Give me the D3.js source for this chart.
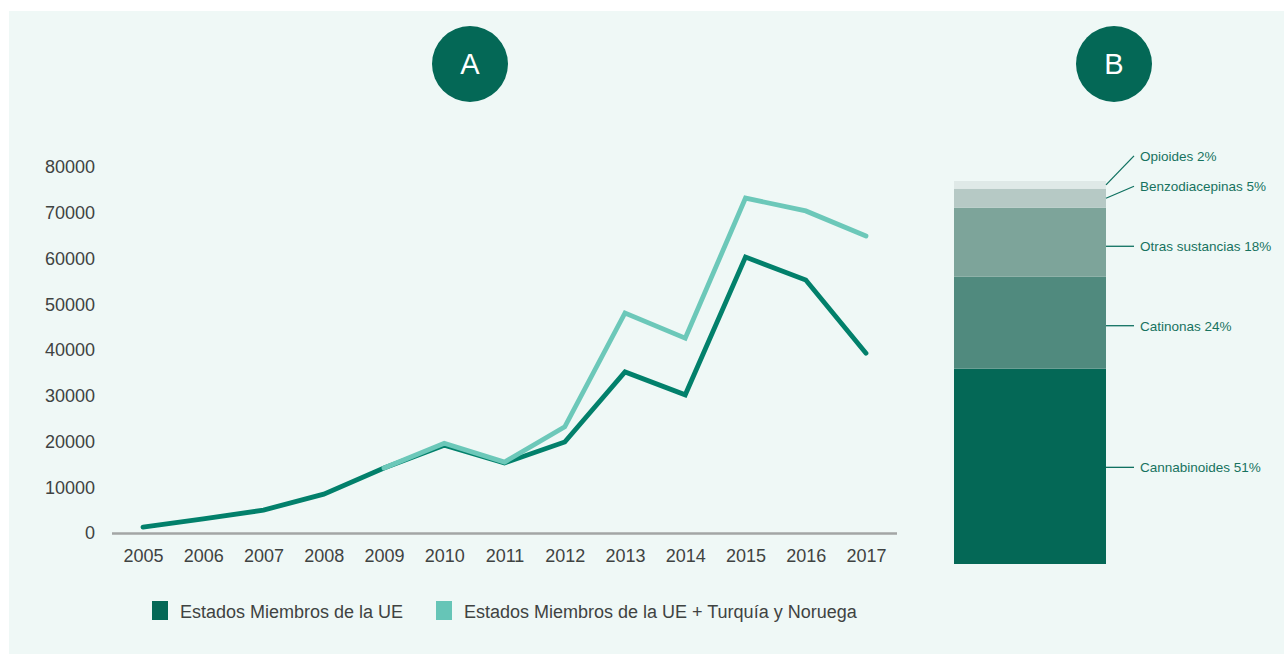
<!DOCTYPE html>
<html>
<head>
<meta charset="utf-8">
<script src="https://cdn.jsdelivr.net/npm/d3@7"></script>
<style>
  body { margin: 0; background: #fff; }
  svg { display: block; font-family: "Liberation Sans", Arial, sans-serif; }
</style>
</head>
<body>
<svg width="1284" height="654"></svg>
<script>
// data
var years = [2005, 2006, 2007, 2008, 2009, 2010, 2011, 2012, 2013, 2014, 2015, 2016, 2017];
var euValues = [1300, 3100, 5000, 8500, 14200, 19200, 15300, 19900, 35200, 30200, 60300, 55300, 39300];
// Turquía y Noruega only from 2009
var euPlusValues = [null, null, null, null, 14200, 19600, 15500, 23200, 48100, 42600, 73200, 70400, 64900];
var yTicks = [0, 10000, 20000, 30000, 40000, 50000, 60000, 70000, 80000];
var legendLabels = ["Estados Miembros de la UE", "Estados Miembros de la UE + Turquía y Noruega"];

var substances = ["Cannabinoides", "Catinonas", "Otras sustancias", "Benzodiacepinas", "Opioides"];
var shares = [51, 24, 18, 5, 2];

var darkLine = "#02806b", lightLine = "#6cc8b9", badge = "#046856";
var barColors = ["#046856", "#508a7e", "#7da49a", "#b6c9c5", "#dfe9e7"];

var svg = d3.select("svg");

svg.append("rect")
  .attr("x", 9).attr("y", 11)
  .attr("width", 1275).attr("height", 643)
  .attr("fill", "#eff8f6");

// ---- Panel A ----
var x = d3.scaleLinear().domain([2005, 2017]).range([143, 866]);
var y = d3.scaleLinear().domain([0, 80000]).range([533, 167]);

svg.append("line")
  .attr("x1", x(2005) - 31).attr("x2", x(2017) + 31)
  .attr("y1", y(0) + 0.5).attr("y2", y(0) + 0.5)
  .attr("stroke", "#a3a6a5").attr("stroke-width", 2.5);

var xAxis = svg.append("g")
  .attr("transform", `translate(0,${y(0)})`)
  .call(d3.axisBottom(x).tickValues(years).tickFormat(d3.format("d")).tickSize(0).tickPadding(16));
xAxis.select(".domain").remove();

var yAxis = svg.append("g")
  .attr("transform", "translate(95,0)")
  .call(d3.axisLeft(y).tickValues(yTicks).tickFormat(d3.format("d")).tickSize(0).tickPadding(0));
yAxis.select(".domain").remove();

svg.selectAll(".tick text")
  .attr("fill", "#3f4342")
  .style("font-size", "18px");

var line = d3.line()
  .defined(d => d[1] != null)
  .x(d => x(d[0]))
  .y(d => y(d[1]));

svg.append("path")
  .datum(years.map((yr, i) => [yr, euValues[i]]))
  .attr("fill", "none")
  .attr("stroke", darkLine)
  .attr("stroke-width", 4.8)
  .attr("stroke-linecap", "round")
  .attr("d", line);

svg.append("path")
  .datum(years.map((yr, i) => [yr, euPlusValues[i]]))
  .attr("fill", "none")
  .attr("stroke", lightLine)
  .attr("stroke-width", 4.8)
  .attr("stroke-linecap", "round")
  .attr("d", line);

// legend
var legend = svg.append("g");
var legX = [152, 436];
legendLabels.forEach(function (lbl, i) {
  legend.append("rect")
    .attr("x", legX[i]).attr("y", 601)
    .attr("width", 16).attr("height", 19)
    .attr("fill", i === 0 ? badge : "#66c5b7");
  legend.append("text")
    .attr("x", legX[i] + 28).attr("y", 618)
    .attr("fill", "#3f4342")
    .style("font-size", "18px")
    .text(lbl);
});

// ---- Panel B ----
var stackData = [];
var acc = 0;
shares.forEach(function (v, i) {
  stackData.push({ name: substances[i], value: v, y0: acc, y1: acc + v });
  acc += v;
});

var yb = d3.scaleLinear().domain([0, d3.sum(shares)]).range([564, 181]);
var barX = 954, barW = 152;

svg.selectAll(".seg")
  .data(stackData)
  .enter().append("rect")
  .attr("class", "seg")
  .attr("x", barX)
  .attr("width", barW)
  .attr("y", d => yb(d.y1))
  .attr("height", d => yb(d.y0) - yb(d.y1))
  .attr("fill", (d, i) => barColors[i]);

// label offsets for the thin top slices
var labelShift = [1, 3, 4, -12, -29];
var labels = svg.selectAll(".lab")
  .data(stackData)
  .enter().append("g")
  .attr("class", "lab");

labels.append("path")
  .attr("fill", "none")
  .attr("stroke", "#0f7160")
  .attr("stroke-width", 1.3)
  .attr("d", function (d, i) {
    var my = (yb(d.y0) + yb(d.y1)) / 2 + (i < 3 ? labelShift[i] : 0);
    return `M${barX + barW},${my}L${barX + barW + 28},${(yb(d.y0) + yb(d.y1)) / 2 + labelShift[i]}`;
  });

labels.append("text")
  .attr("x", barX + barW + 34)
  .attr("y", (d, i) => (yb(d.y0) + yb(d.y1)) / 2 + labelShift[i])
  .attr("dy", "0.36em")
  .attr("fill", "#17735f")
  .style("font-size", "13.5px")
  .text(d => `${d.name} ${d.value}%`);

// badges
[["A", 470], ["B", 1114]].forEach(function (b) {
  svg.append("circle")
    .attr("cx", b[1]).attr("cy", 64).attr("r", 38)
    .attr("fill", badge);
  svg.append("text")
    .attr("x", b[1]).attr("y", 64)
    .attr("dy", "0.36em")
    .attr("text-anchor", "middle")
    .attr("fill", "#fff")
    .style("font-size", "29px")
    .style("font-weight", "500")
    .text(b[0]);
});
</script>
</body>
</html>
